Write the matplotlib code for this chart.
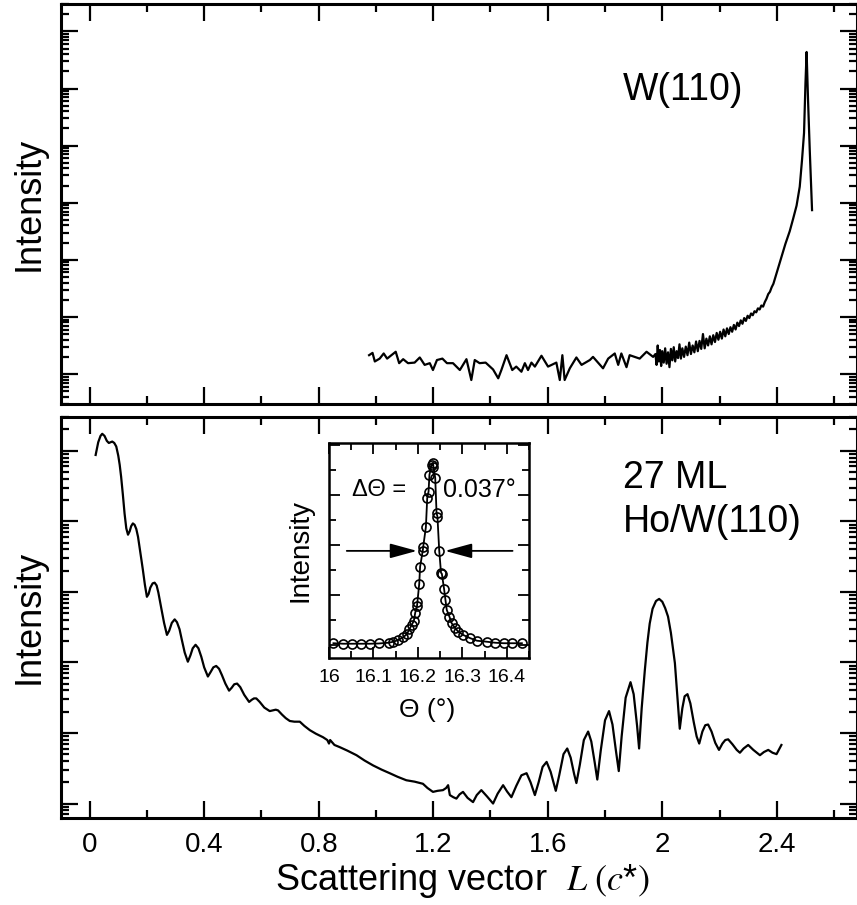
import numpy as np
import matplotlib
matplotlib.use('Agg')
import matplotlib.pyplot as plt
from matplotlib import font_manager
from matplotlib.ticker import LogLocator, NullFormatter, MultipleLocator

names = {f.name for f in font_manager.fontManager.ttflist}
sans = 'Liberation Sans Narrow' if 'Liberation Sans Narrow' in names else 'Liberation Sans'
plt.rcParams['font.family'] = [sans, 'DejaVu Sans']
plt.rcParams['mathtext.fontset'] = 'stix'

# --- W(110) crystal truncation rod (log10 of intensity, arb. units)
L_w = [0.976, 0.988, 0.996, 1.013, 1.027, 1.039, 1.069, 1.081, 1.095, 1.112,
       1.135, 1.153, 1.170, 1.188, 1.199, 1.213, 1.232, 1.248, 1.269, 1.293,
       1.316, 1.333, 1.345, 1.362, 1.383, 1.409, 1.427, 1.438, 1.456, 1.476,
       1.490, 1.508, 1.520, 1.531, 1.543, 1.555, 1.578, 1.601, 1.630, 1.642,
       1.651, 1.659, 1.677, 1.700, 1.718, 1.747, 1.758, 1.793, 1.811, 1.834,
       1.846, 1.857, 1.875, 1.886, 1.921, 1.945, 1.968,
       1.976, 1.980, 1.984, 1.988, 1.992, 1.996, 2.000, 2.005, 2.010, 2.015,
       2.020, 2.025, 2.030, 2.035, 2.040, 2.045, 2.050, 2.055, 2.060, 2.065,
       2.070, 2.076, 2.082, 2.088, 2.094, 2.100, 2.106, 2.112, 2.118, 2.124,
       2.130, 2.136, 2.142, 2.148, 2.154, 2.160, 2.166, 2.172, 2.178, 2.184,
       2.190, 2.196, 2.202, 2.208, 2.214, 2.220, 2.226, 2.232, 2.238, 2.244,
       2.250, 2.256, 2.262, 2.268, 2.274, 2.280, 2.286, 2.292, 2.298, 2.304,
       2.310, 2.316, 2.322, 2.328, 2.334, 2.340, 2.346, 2.352, 2.358, 2.364,
       2.370, 2.376, 2.382, 2.388, 2.394, 2.400, 2.410, 2.420, 2.430, 2.445,
       2.457, 2.469, 2.480, 2.488, 2.495, 2.500, 2.504, 2.509, 2.515, 2.523]
logI_w = [0.33, 0.37, 0.22, 0.27, 0.36, 0.27, 0.39, 0.19, 0.26, 0.19,
          0.20, 0.29, 0.16, 0.19, 0.07, 0.245, 0.27, 0.19, 0.19, 0.07,
          0.26, -0.105, 0.245, 0.19, 0.20, 0.08, -0.075, 0.07, 0.33, 0.07,
          0.13, 0.04, 0.19, 0.07, 0.20, 0.13, 0.32, 0.13, 0.20, -0.105,
          0.33, -0.105, 0.10, 0.29, 0.16, 0.245, 0.30, 0.10, 0.27, 0.36,
          0.16, 0.36, 0.12, 0.33, 0.27, 0.39, 0.30,
          0.35, 0.16, 0.50, 0.22, 0.42, 0.14, 0.40, 0.20, 0.45, 0.18,
          0.38, 0.12, 0.44, 0.24, 0.47, 0.22, 0.40, 0.28, 0.52, 0.27,
          0.45, 0.30, 0.48, 0.33, 0.55, 0.35, 0.50, 0.38, 0.57, 0.40,
          0.58, 0.44, 0.70, 0.45, 0.62, 0.50, 0.66, 0.52, 0.68, 0.56,
          0.72, 0.60, 0.74, 0.62, 0.78, 0.66, 0.80, 0.70, 0.82, 0.74,
          0.86, 0.78, 0.90, 0.84, 0.94, 0.88, 0.98, 0.93, 1.02, 0.98,
          1.06, 1.03, 1.10, 1.08, 1.15, 1.13, 1.20, 1.18, 1.26, 1.32,
          1.40, 1.44, 1.52, 1.58, 1.68, 1.78, 1.94, 2.12, 2.28, 2.50,
          2.72, 2.95, 3.28, 3.75, 4.22, 5.09, 5.64, 4.80, 3.92, 2.87]

# --- 27 ML Ho/W(110) (log10 of intensity)
L_ho = [0.021, 0.030, 0.038, 0.044, 0.052, 0.060, 0.067, 0.073, 0.079, 0.086,
        0.093, 0.100, 0.105, 0.110, 0.116, 0.122, 0.128, 0.134, 0.140, 0.145,
        0.151, 0.157, 0.163, 0.169, 0.175, 0.181, 0.186, 0.193, 0.200, 0.206,
        0.212, 0.220, 0.227, 0.234, 0.240, 0.245, 0.252, 0.260, 0.270, 0.278,
        0.287, 0.297, 0.305, 0.314, 0.322, 0.332, 0.343, 0.352, 0.360, 0.370,
        0.380, 0.390, 0.400, 0.413, 0.422, 0.432, 0.442, 0.452, 0.462, 0.474,
        0.487, 0.496, 0.505, 0.515, 0.526, 0.540, 0.557, 0.566, 0.574, 0.582,
        0.594, 0.610, 0.629, 0.640, 0.650, 0.658, 0.672, 0.685, 0.699, 0.715,
        0.734, 0.750, 0.769, 0.790, 0.815, 0.830, 0.836, 0.840, 0.855, 0.873,
        0.900, 0.932, 0.960, 0.990, 1.020, 1.048, 1.075, 1.106, 1.135, 1.164,
        1.180, 1.199, 1.215, 1.234, 1.245, 1.252, 1.258, 1.270, 1.281, 1.292,
        1.304, 1.320, 1.339, 1.352, 1.368, 1.388, 1.409, 1.425, 1.444, 1.458,
        1.473, 1.490, 1.508, 1.526, 1.540, 1.555, 1.568, 1.582, 1.596, 1.610,
        1.628, 1.640, 1.655, 1.668, 1.680, 1.692, 1.700, 1.712, 1.726, 1.741,
        1.752, 1.764, 1.773, 1.785, 1.800, 1.814, 1.826, 1.838, 1.848, 1.858,
        1.872, 1.889, 1.900, 1.912, 1.919, 1.928, 1.939, 1.948, 1.956, 1.966,
        1.978, 1.989, 2.000, 2.010, 2.020, 2.030, 2.038, 2.044, 2.052, 2.061,
        2.070, 2.078, 2.088, 2.098, 2.110, 2.120, 2.129, 2.140, 2.150, 2.160,
        2.172, 2.185, 2.198, 2.210, 2.220, 2.230, 2.245, 2.260, 2.271, 2.284,
        2.300, 2.318, 2.341, 2.355, 2.370, 2.385, 2.399, 2.416]
logI_ho = [4.94, 5.12, 5.21, 5.24, 5.21, 5.14, 5.11, 5.12, 5.13, 5.11,
           5.06, 4.93, 4.80, 4.63, 4.38, 4.11, 3.90, 3.81, 3.86, 3.93,
           3.97, 3.95, 3.89, 3.78, 3.62, 3.45, 3.31, 3.10, 2.93, 2.97,
           3.06, 3.12, 3.13, 3.09, 2.99, 2.88, 2.73, 2.56, 2.39, 2.45,
           2.56, 2.61, 2.57, 2.47, 2.32, 2.14, 2.01, 2.10, 2.20, 2.25,
           2.20, 2.08, 1.93, 1.80, 1.86, 1.93, 1.95, 1.91, 1.82, 1.70,
           1.60, 1.64, 1.69, 1.70, 1.65, 1.54, 1.44, 1.47, 1.49, 1.49,
           1.44, 1.36, 1.31, 1.32, 1.33, 1.32, 1.26, 1.21, 1.17, 1.16,
           1.16, 1.10, 1.04, 0.99, 0.94, 0.90, 0.85, 0.90, 0.83, 0.80,
           0.75, 0.685, 0.61, 0.54, 0.48, 0.43, 0.38, 0.33, 0.31, 0.28,
           0.22, 0.165, 0.18, 0.19, 0.22, 0.26, 0.12, 0.09, 0.07, 0.13,
           0.165, 0.08, 0.02, 0.12, 0.19, 0.10, 0.00, 0.14, 0.26, 0.17,
           0.09, 0.25, 0.40, 0.43, 0.30, 0.12, 0.30, 0.52, 0.59, 0.45,
           0.18, 0.40, 0.70, 0.78, 0.65, 0.42, 0.29, 0.55, 0.90, 1.02,
           0.88, 0.58, 0.34, 0.75, 1.18, 1.31, 1.12, 0.75, 0.46, 0.95,
           1.50, 1.72, 1.55, 1.10, 0.78, 1.35, 1.89, 2.28, 2.55, 2.76,
           2.87, 2.90, 2.86, 2.77, 2.65, 2.42, 2.18, 1.99, 1.55, 1.06,
           1.35, 1.52, 1.55, 1.42, 1.15, 0.95, 0.85, 1.02, 1.11, 1.12,
           1.02, 0.86, 0.76, 0.85, 0.90, 0.91, 0.84, 0.76, 0.72, 0.78,
           0.83, 0.76, 0.685, 0.73, 0.76, 0.72, 0.70, 0.83]

# --- inset: rocking scan
theta_in = [16.010, 16.032, 16.052, 16.072, 16.092, 16.112, 16.134, 16.145, 16.156, 16.167,
            16.175, 16.181, 16.186, 16.191, 16.194, 16.198, 16.199, 16.203, 16.205, 16.211,
            16.212, 16.218, 16.221, 16.224, 16.226, 16.231, 16.234, 16.235, 16.239, 16.242,
            16.244, 16.248, 16.252, 16.254, 16.259, 16.262, 16.265, 16.271, 16.276, 16.284,
            16.291, 16.302, 16.318, 16.333, 16.355, 16.374, 16.393, 16.411, 16.434]
I_in = [0.07, 0.05, 0.05, 0.05, 0.05, 0.06, 0.09, 0.13, 0.20, 0.31,
        0.43, 0.63, 0.80, 0.97, 1.29, 1.55, 1.73, 2.44, 3.13, 3.77,
        3.93, 4.71, 5.87, 6.13, 6.80, 7.20, 7.27, 7.13, 6.67, 5.27,
        5.13, 3.77, 2.89, 2.84, 2.23, 1.80, 1.40, 1.13, 0.87, 0.67,
        0.53, 0.40, 0.27, 0.17, 0.13, 0.09, 0.07, 0.07, 0.07]

W, H = 857, 905
fig = plt.figure(figsize=(W / 100, H / 100), dpi=100)

def px_axes(l, t, r, b):
    return [l / W, 1 - b / H, (r - l) / W, (b - t) / H]

ax1 = fig.add_axes(px_axes(61, 4, 857, 404))
ax2 = fig.add_axes(px_axes(61, 417, 857, 818))

ax1.plot(L_w, 10 ** np.array(logI_w), color='k', lw=1.6)
ax2.plot(L_ho, 10 ** np.array(logI_ho), color='k', lw=1.6)

ax1.set_ylim(10 ** -0.525, 10 ** 6.48)
ax2.set_ylim(10 ** -0.205, 10 ** 5.478)

for ax in (ax1, ax2):
    ax.set_yscale('log')
    ax.set_xlim(-0.1, 2.68)
    ax.xaxis.set_major_locator(MultipleLocator(0.4))
    ax.xaxis.set_minor_locator(MultipleLocator(0.2))
    ax.yaxis.set_major_locator(LogLocator(base=10, numticks=20))
    ax.yaxis.set_minor_locator(LogLocator(base=10, subs=np.arange(2, 10), numticks=20))
    ax.yaxis.set_major_formatter(NullFormatter())
    ax.yaxis.set_minor_formatter(NullFormatter())
    ax.tick_params(which='both', direction='in', top=True, right=True, width=1.6)
    ax.tick_params(which='major', length=12)
    ax.tick_params(which='minor', length=6)
    for s in ax.spines.values():
        s.set_linewidth(2.2)

ax1.tick_params(labelbottom=False)
ax2.tick_params(axis='x', labelsize=20, pad=10)
ax2.set_xticks([0, 0.4, 0.8, 1.2, 1.6, 2.0, 2.4])
ax2.set_xticklabels(['0', '0.4', '0.8', '1.2', '1.6', '2', '2.4'])

fig.text(29 / W, 1 - 204 / H, 'Intensity', rotation=90, ha='center', va='center', fontsize=26)
fig.text(29 / W, 1 - 617 / H, 'Intensity', rotation=90, ha='center', va='center', fontsize=26)
fig.text(462 / W, 1 - 880 / H, r'Scattering vector  $L\ (c$*$)$', ha='center', va='center', fontsize=26)

ax1.text(0.706, 0.785, 'W(110)', transform=ax1.transAxes, fontsize=27, va='center')
ax2.text(0.706, 0.848, '27 ML', transform=ax2.transAxes, fontsize=27, va='center')
ax2.text(0.706, 0.738, 'Ho/W(110)', transform=ax2.transAxes, fontsize=27, va='center')

# inset
axi = fig.add_axes(px_axes(329, 443, 529, 658))
axi.plot(theta_in, I_in, color='k', lw=1.3, marker='o', ms=6.5, mfc='none', mec='k', mew=1.2)
axi.set_xlim(16.0, 16.45)
axi.set_ylim(-0.52, 8.07)
axi.xaxis.set_major_locator(MultipleLocator(0.1))
axi.xaxis.set_minor_locator(MultipleLocator(0.05))
axi.yaxis.set_major_locator(MultipleLocator(2))
axi.yaxis.set_minor_locator(MultipleLocator(1))
axi.yaxis.set_major_formatter(NullFormatter())
axi.set_xticks([16.0, 16.1, 16.2, 16.3, 16.4])
axi.set_xticklabels(['16', '16.1', '16.2', '16.3', '16.4'])
axi.tick_params(which='both', direction='in', top=True, right=True, width=1.3)
axi.tick_params(which='major', length=8)
axi.tick_params(which='minor', length=5)
axi.tick_params(axis='x', labelsize=14, pad=8)
for s in axi.spines.values():
    s.set_linewidth(1.8)

arrow = dict(arrowstyle='-|>,head_length=1.1,head_width=0.3', mutation_scale=15,
             color='k', lw=1.3, shrinkA=0, shrinkB=0)
axi.annotate('', xy=(16.198, 3.76), xytext=(16.040, 3.76), arrowprops=arrow)
axi.annotate('', xy=(16.261, 3.76), xytext=(16.413, 3.76), arrowprops=arrow)
axi.text(16.051, 6.2, '\u0394\u0398 =', fontsize=17, va='center', ha='left')
axi.text(16.257, 6.2, '0.037\u00b0', fontsize=18, va='center', ha='left')

fig.text(300 / W, 1 - 550 / H, 'Intensity', rotation=90, ha='center', va='center', fontsize=20)
fig.text(427 / W, 1 - 710 / H, '\u0398 (\u00b0)', ha='center', va='center', fontsize=19)

fig.savefig('out.png', dpi=100)
